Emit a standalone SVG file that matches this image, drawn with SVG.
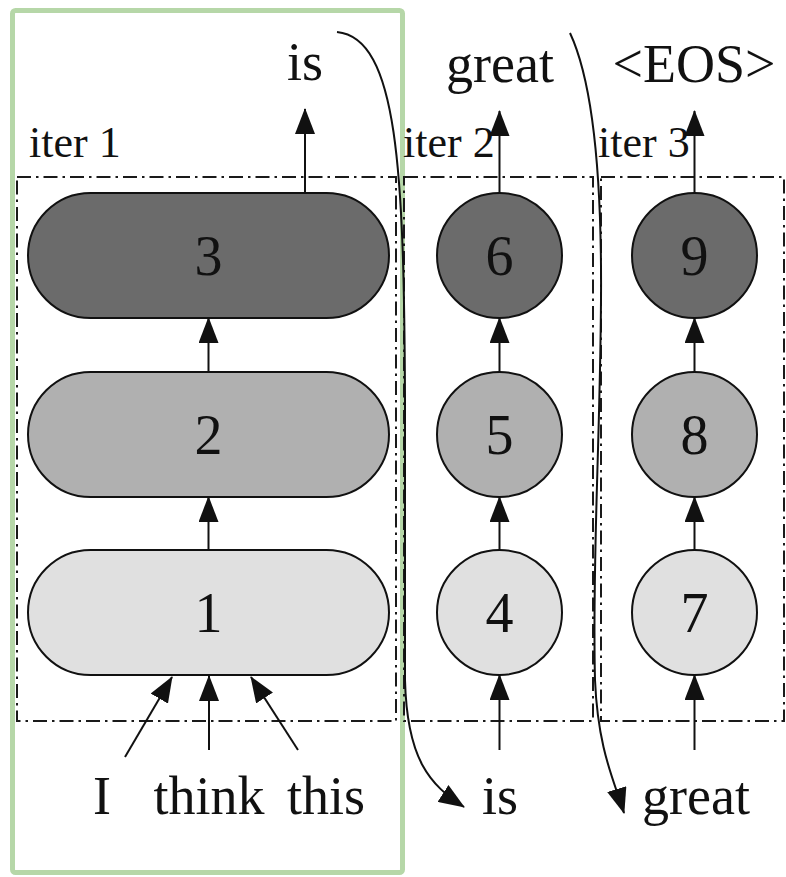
<svg xmlns="http://www.w3.org/2000/svg" width="786" height="877" viewBox="0 0 786 877">
<style>
text{font-family:"Liberation Serif","Times New Roman",serif;fill:#111;text-anchor:middle}
.w{font-size:54px}
.d{font-size:56px}
.it{font-size:44px;text-anchor:start}
.box{fill:none;stroke:#1a1a1a;stroke-width:2;stroke-dasharray:14,5,2.5,5}
.n{stroke:#111;stroke-width:2}
.dk{fill:#6b6b6b}.md{fill:#b0b0b0}.lt{fill:#e0e0e0}
.c{fill:none;stroke:#111;stroke-width:2}
</style>
<defs>
<marker id="ah" viewBox="0 0 26 20" refX="25" refY="10" markerWidth="26" markerHeight="20" markerUnits="userSpaceOnUse" orient="auto">
<path d="M0,0 L26,10 L0,20 z" fill="#111"/>
</marker>
</defs>
<rect id="highlight" x="12.5" y="10.5" width="390" height="862" rx="3" fill="none" stroke="#b6d7a8" stroke-width="5"/>
<g id="iter-boxes">
<rect class="box" x="17" y="177" width="379" height="544"/>
<rect class="box" x="404" y="177" width="189" height="544"/>
<rect class="box" x="601" y="177" width="183" height="544"/>
<text class="it" x="29" y="157">iter 1</text>
<text class="it" x="403" y="157">iter 2</text>
<text class="it" x="598" y="157">iter 3</text>
</g>
<g id="node1"><rect class="n lt" x="28" y="550" width="361" height="125" rx="62.5"/><text class="d" x="208.5" y="632">1</text></g>
<g id="node2"><rect class="n md" x="28" y="372" width="361" height="125" rx="62.5"/><text class="d" x="208.5" y="454">2</text></g>
<g id="node3"><rect class="n dk" x="28" y="193" width="361" height="125" rx="62.5"/><text class="d" x="208.5" y="275">3</text></g>
<g id="node4"><circle class="n lt" cx="499.5" cy="612.5" r="62.5"/><text class="d" x="499.5" y="632">4</text></g>
<g id="node5"><circle class="n md" cx="499.5" cy="434.5" r="62.5"/><text class="d" x="499.5" y="454">5</text></g>
<g id="node6"><circle class="n dk" cx="499.5" cy="255.5" r="62.5"/><text class="d" x="499.5" y="275">6</text></g>
<g id="node7"><circle class="n lt" cx="694.5" cy="612.5" r="62.5"/><text class="d" x="694.5" y="632">7</text></g>
<g id="node8"><circle class="n md" cx="694.5" cy="434.5" r="62.5"/><text class="d" x="694.5" y="454">8</text></g>
<g id="node9"><circle class="n dk" cx="694.5" cy="255.5" r="62.5"/><text class="d" x="694.5" y="275">9</text></g>
<g id="words">
<text class="w" x="305" y="80">is</text>
<text class="w" x="500" y="82">great</text>
<text class="w" x="694" y="82">&lt;EOS&gt;</text>
<text class="w" x="102" y="814">I</text>
<text class="w" x="209" y="814">think</text>
<text class="w" x="326" y="814">this</text>
<text class="w" x="500" y="814">is</text>
<text class="w" x="696" y="814">great</text>
</g>
<g id="connectors" marker-end="url(#ah)">
<line class="c" x1="305" y1="193" x2="305" y2="109" marker-end="url(#ah)"/>
<line class="c" x1="499.5" y1="193" x2="499.5" y2="111" marker-end="url(#ah)"/>
<line class="c" x1="694.5" y1="193" x2="694.5" y2="111" marker-end="url(#ah)"/>
<line class="c" x1="208.5" y1="372" x2="208.5" y2="318" marker-end="url(#ah)"/>
<line class="c" x1="208.5" y1="550" x2="208.5" y2="497" marker-end="url(#ah)"/>
<line class="c" x1="499.5" y1="372" x2="499.5" y2="318" marker-end="url(#ah)"/>
<line class="c" x1="499.5" y1="550" x2="499.5" y2="497" marker-end="url(#ah)"/>
<line class="c" x1="694.5" y1="372" x2="694.5" y2="318" marker-end="url(#ah)"/>
<line class="c" x1="694.5" y1="550" x2="694.5" y2="497" marker-end="url(#ah)"/>
<line class="c" x1="125" y1="757" x2="172" y2="677" marker-end="url(#ah)"/>
<line class="c" x1="209" y1="750" x2="209" y2="676" marker-end="url(#ah)"/>
<line class="c" x1="298" y1="750" x2="251" y2="677" marker-end="url(#ah)"/>
<line class="c" x1="499.5" y1="750" x2="499.5" y2="675" marker-end="url(#ah)"/>
<line class="c" x1="694.5" y1="750" x2="694.5" y2="675" marker-end="url(#ah)"/>
<path class="c" d="M337,32 C398,38 404,170 405,400 L405,680 C407,760 430,785 464,807" marker-end="url(#ah)"/>
<path class="c" d="M570,33 C592,80 602,170 601,300 C600,450 592,560 595,680 C598,750 614,780 624,813" marker-end="url(#ah)"/>
</g>
</svg>
